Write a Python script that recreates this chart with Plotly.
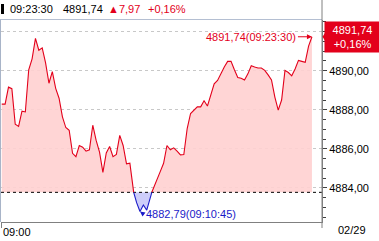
import plotly.graph_objects as go

# ---- data ----
START_TIME = "09:00:30"
STEP_SECONDS = 15
values = [
    4888.29, 4888.29, 4889.16, 4889.08, 4887.26, 4887.15, 4887.93, 4887.89, 4890.05, 4890.61,
    4891.66, 4891.05, 4891.17, 4890.40, 4889.36, 4889.95, 4889.10, 4888.59, 4887.64, 4887.09,
    4886.95, 4885.77, 4885.60, 4886.17, 4886.08, 4885.88, 4885.95, 4887.21, 4886.43, 4885.83,
    4884.79, 4885.79, 4886.12, 4885.60, 4885.71, 4886.69, 4886.17, 4885.23, 4885.26, 4883.85,
    4883.24, 4882.79, 4883.12, 4882.86, 4883.53, 4884.00, 4884.36, 4884.83, 4885.26, 4886.17,
    4885.95, 4886.05, 4885.88, 4885.69, 4885.71, 4887.04, 4887.81, 4887.98, 4888.15, 4888.15,
    4888.46, 4888.19, 4888.76, 4889.33, 4889.50, 4889.88, 4890.19, 4890.48, 4890.48, 4890.05,
    4889.65, 4889.62, 4889.53, 4889.84, 4890.26, 4890.19, 4890.14, 4890.14, 4890.02, 4889.79,
    4889.53, 4888.65, 4887.98, 4888.50, 4890.02, 4889.91, 4889.74, 4890.09, 4890.53, 4890.48,
    4890.43, 4891.26, 4891.74,
]
prev_close = 4883.77
last_price = 4891.74
change = 7.97
change_pct = 0.16
low_price = 4882.79
low_time = "09:10:45"
last_time = "09:23:30"
date_label = "02/29"
open_label = "09:00"
tick_vals = [4884, 4886, 4888, 4890, 4892]
tick_text = ["4884,00", "4886,00", "4888,00", "4890,00", ""]

def fmt(v):
    return f"{v:.2f}".replace(".", ",")

def to_sec(t):
    h, m, s = map(int, t.split(":"))
    return (h - 9) * 3600 + m * 60 + s

t0 = to_sec(START_TIME)
xs0 = [t0 + i * STEP_SECONDS for i in range(len(values))]

# insert crossing points with the previous-close line
xs, ys = [], []
for i in range(len(values)):
    if i > 0:
        a, b = values[i - 1], values[i]
        if (a - prev_close) * (b - prev_close) < 0:
            f = (prev_close - a) / (b - a)
            xs.append(xs0[i - 1] + f * (xs0[i] - xs0[i - 1]))
            ys.append(prev_close)
    xs.append(xs0[i])
    ys.append(values[i])

up = [max(v, prev_close) for v in ys]
dn = [min(v, prev_close) for v in ys]
red_line = [v if v >= prev_close else None for v in ys]
blue_line = [v if v <= prev_close else None for v in ys]

RED = "#e3001b"
BLUE = "#1a1ac8"
PINK = "rgba(255,208,208,0.9)"
LAV = "rgba(200,200,250,0.9)"
FONT = "Liberation Sans"

X0, X1 = 26.7, 1454.7

fig = go.Figure()
fig.add_trace(go.Scatter(x=xs, y=[prev_close] * len(xs), mode="lines", line=dict(width=0), hoverinfo="skip"))
fig.add_trace(go.Scatter(x=xs, y=up, mode="lines", line=dict(width=0), fill="tonexty", fillcolor=PINK, hoverinfo="skip"))
fig.add_trace(go.Scatter(x=xs, y=[prev_close] * len(xs), mode="lines", line=dict(width=0), hoverinfo="skip"))
fig.add_trace(go.Scatter(x=xs, y=dn, mode="lines", line=dict(width=0), fill="tonexty", fillcolor=LAV, hoverinfo="skip"))
# previous close dashed line
fig.add_trace(go.Scatter(x=[X0, X1], y=[prev_close, prev_close], mode="lines",
                         line=dict(color="black", width=1, dash="3px,3px"), hoverinfo="skip"))
fig.add_trace(go.Scatter(x=xs, y=red_line, mode="lines", line=dict(color=RED, width=1.1), connectgaps=False))
fig.add_trace(go.Scatter(x=xs, y=blue_line, mode="lines", line=dict(color=BLUE, width=1.1), connectgaps=False))

W, H = 379, 241
L, R, T, B = 1, 322, 20, 222

def px(xp):
    return (xp - L) / (R - L)

def py(yp):
    return (B - yp) / (B - T)

low_sec = to_sec(low_time)
last_sec = to_sec(last_time)

ann = [
    dict(x=px(8), y=py(9.5), xref="paper", yref="paper", text="09:23:30", showarrow=False,
         xanchor="left", yanchor="middle", font=dict(color="black")),
    dict(x=px(61), y=py(9.5), xref="paper", yref="paper", text=fmt(last_price), showarrow=False,
         xanchor="left", yanchor="middle", font=dict(color="black")),
    dict(x=px(106), y=py(9.5), xref="paper", yref="paper", text="▲" + fmt(change), showarrow=False,
         xanchor="left", yanchor="middle", font=dict(color=RED)),
    dict(x=px(146), y=py(9.5), xref="paper", yref="paper", text="+" + fmt(change_pct) + "%", showarrow=False,
         xanchor="left", yanchor="middle", font=dict(color=RED)),
    # last price label with arrow
    dict(x=last_sec, y=last_price, xref="x", yref="y", text=f"{fmt(last_price)}({last_time})",
         showarrow=True, ax=-14, ay=0, xanchor="right", arrowhead=2, arrowsize=1, arrowwidth=1,
         arrowcolor=RED, font=dict(color=RED)),
    # low label
    dict(x=low_sec, y=low_price, xref="x", yref="y", text=f"{fmt(low_price)}({low_time})",
         showarrow=True, ax=4, ay=3, xanchor="left", arrowhead=2, arrowsize=1, arrowwidth=1,
         arrowcolor=BLUE, font=dict(color=BLUE)),
    # right red box
    dict(x=px(323.5), y=last_price, xref="paper", yref="y", text=f"{fmt(last_price)}<br>+{fmt(change_pct)}%",
         showarrow=False, xanchor="left", yanchor="middle", bgcolor=RED, font=dict(color="white"),
         width=55, height=30, align="center", borderpad=0),
    dict(x=px(1), y=py(232), xref="paper", yref="paper", text=open_label, showarrow=False,
         xanchor="left", yanchor="middle", font=dict(color="black")),
    dict(x=px(368), y=py(230), xref="paper", yref="paper", text=date_label, showarrow=False,
         xanchor="right", yanchor="middle", font=dict(color="black")),
]

shapes = [
    dict(type="rect", xref="paper", yref="paper", x0=px(1), x1=px(4), y0=py(14), y1=py(4),
         fillcolor="black", line=dict(width=0)),
    dict(type="line", xref="paper", yref="paper", x0=px(0), x1=1, y0=py(19.5), y1=py(19.5),
         line=dict(color="#b4bfd2", width=1)),
    dict(type="line", xref="paper", yref="paper", x0=px(0.5), x1=px(0.5), y0=0, y1=py(19.5),
         line=dict(color="#a8b4c8", width=1)),
    dict(type="line", xref="paper", yref="paper", x0=px(1.5), x1=px(1.5), y0=0, y1=py(228),
         line=dict(color="#808080", width=1)),
    dict(type="line", xref="paper", yref="paper", x0=1, x1=1, y0=py(228), y1=py(0),
         line=dict(color="#808080", width=1)),
    dict(type="path", xref="paper", yref="y",
         path=f"M {px(322.5)} {last_price} L {px(325)} {last_price + 0.2} L {px(325)} {last_price - 0.2} Z",
         fillcolor=RED, line=dict(width=0)),
]

fig.update_layout(
    width=W, height=H,
    margin=dict(l=L, r=W - R, t=T, b=H - B, pad=0),
    paper_bgcolor="white", plot_bgcolor="white",
    showlegend=False,
    font=dict(family=FONT, size=11, color="black"),
    annotations=ann, shapes=shapes,
    xaxis=dict(range=[X0, X1], showticklabels=False, showgrid=False, zeroline=False,
               showline=True, linecolor="#808080", linewidth=1, ticks=""),
    yaxis=dict(range=[4882.25, 4892.60], side="right", tickvals=tick_vals, ticktext=tick_text,
               showgrid=True, gridcolor="#c8c8c8", griddash="3px,3px", gridwidth=1,
               zeroline=False, showline=True, linecolor="#808080", linewidth=1,
               ticks="outside", ticklen=4, tickcolor="#404040",
               minor=dict(dtick=0.5, tick0=4884, ticks="outside", ticklen=3, tickcolor="#404040", showgrid=False),
               tickfont=dict(family=FONT, size=11, color="black")),
)

fig.write_html("out.html")
